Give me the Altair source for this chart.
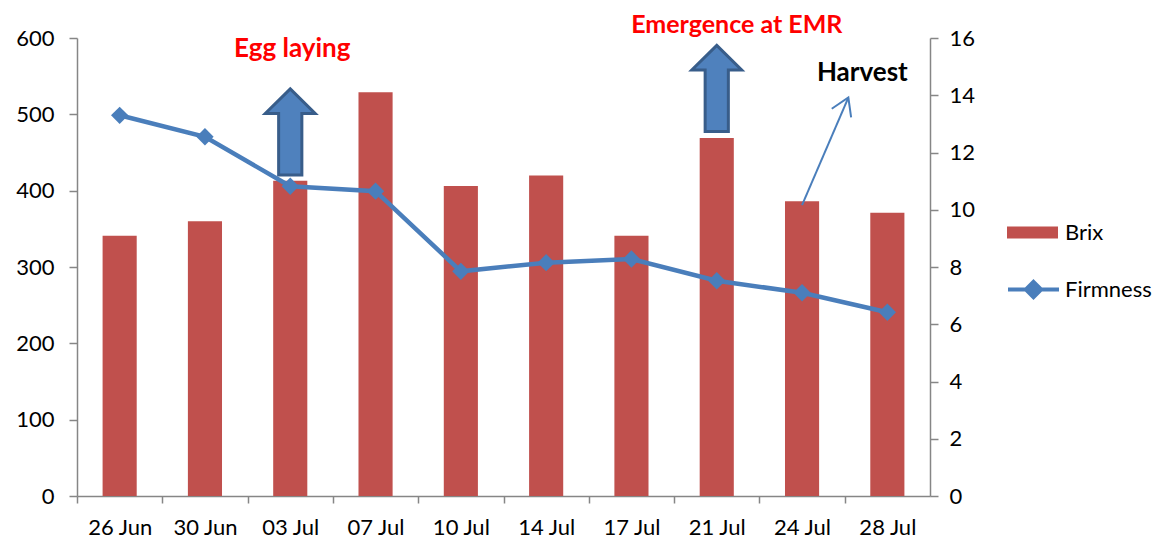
import altair as alt
import pandas as pd

# ---- data ----
dates = ["26 Jun", "30 Jun", "03 Jul", "07 Jul", "10 Jul", "14 Jul", "17 Jul", "21 Jul", "24 Jul", "28 Jul"]
brix = [341, 360, 413, 529, 406, 420, 341, 469, 386, 371]
firmness = [13.3, 12.55, 10.82, 10.65, 7.85, 8.15, 8.28, 7.52, 7.1, 6.42]

# annotations (category, value on Brix scale)
ann_text = ["Egg laying", "Emergence at EMR", "Harvest"]
ann_cat = ["03 Jul", "21 Jul", "28 Jul"]
ann_val = [575, 607, 544]
ann_color = ["#ff0000", "#ff0000", "#000000"]
ann_dx = [2, 20, -25]

block_cat = ["03 Jul", "21 Jul"]
block_val = [477, 534]

harvest_from = ("24 Jul", 381)
harvest_to = ("28 Jul", 522)

FONT = "Lato"
AX_COL = "#868686"

df = pd.DataFrame({"date": dates, "Brix": brix, "Firmness": firmness,
                   "s1": ["Brix"] * len(dates), "s2": ["Firmness"] * len(dates)})

xscale = alt.Scale(domain=dates, paddingInner=0, paddingOuter=0)
yleft = alt.Scale(domain=[0, 600], nice=False, zero=True)
yright = alt.Scale(domain=[0, 16], nice=False, zero=True)


def X(field):
    return alt.X(field, type="nominal", scale=xscale, sort=dates, title=None)


def YL(field):
    return alt.Y(field, type="quantitative", scale=yleft, title=None)


bars = alt.Chart(df).mark_bar(color="#c0504d", width=alt.RelativeBandSize(0.4)).encode(
    x=alt.X("date:N", scale=xscale, sort=dates, title=None,
            axis=alt.Axis(labelAngle=0, labelFont=FONT, labelFontSize=22, labelColor="#000",
                          domainColor=AX_COL, domainWidth=1.5, ticks=True, tickColor=AX_COL,
                          tickWidth=1.5, tickSize=7, tickOffset=-42.65, labelOffset=42.65,
                          labelPadding=14, grid=False)),
    y=alt.Y("Brix:Q", scale=yleft, title=None,
            axis=alt.Axis(values=[0, 100, 200, 300, 400, 500, 600], labelFont=FONT, labelFontSize=22,
                          labelColor="#000", domainColor=AX_COL, domainWidth=1.5, tickColor=AX_COL,
                          tickWidth=1.5, tickSize=8, labelPadding=15, grid=False, orient="left")),
    color=alt.Color("s1:N", scale=alt.Scale(domain=["Brix"], range=["#c0504d"]), title=None,
                    legend=alt.Legend(orient="none", legendX=929, legendY=168, padding=0,
                                      symbolType="M-1,-0.235H1V0.235H-1Z", symbolSize=2601,
                                      labelFont=FONT, labelFontSize=22, labelColor="#000",
                                      labelOffset=6)),
)

ann_df = pd.DataFrame({"t": ann_text, "date": ann_cat, "v": ann_val})
texts = []
for i in range(len(ann_text)):
    texts.append(
        alt.Chart(ann_df.iloc[[i]]).mark_text(font=FONT, fontSize=25 if i == 1 else 26, fontWeight="bold",
                                              color=ann_color[i], dx=ann_dx[i], baseline="alphabetic",
                                              align="center").encode(
            x=X("date"), y=YL("v"), text="t:N")
    )

ARROW = "M0,-1L0.58,-0.43L0.27,-0.43L0.27,1L-0.27,1L-0.27,-0.43L-0.58,-0.43Z"
blk_df = pd.DataFrame({"date": block_cat, "v": block_val})
blocks = alt.Chart(blk_df).mark_point(shape=ARROW, size=7396, filled=True, fill="#4f81bd",
                                      stroke="#385d8a", strokeWidth=3, opacity=1).encode(
    x=X("date"), y=YL("v"))

hv_df = pd.DataFrame({"d1": [harvest_from[0]], "v1": [harvest_from[1]],
                      "d2": [harvest_to[0]], "v2": [harvest_to[1]]})
hrule = alt.Chart(hv_df).mark_rule(color="#4a7ebb", strokeWidth=2, x2Offset=-39).encode(
    x=X("d1"), x2="d2:N", y=YL("v1"), y2="v2:Q")
hhead = alt.Chart(hv_df).mark_point(shape="M-0.53,0.85L0,0L0.53,0.85", size=1600, filled=False,
                                    stroke="#4a7ebb", strokeWidth=2, angle=24, opacity=1,
                                    xOffset=-39).encode(
    x=X("d2"), y=YL("v2"))

left = alt.layer(bars, *texts, blocks, hrule, hhead)

line = alt.Chart(df).mark_line(color="#4a7ebb", strokeWidth=4.5).encode(
    x=X("date"),
    y=alt.Y("Firmness:Q", scale=yright, title=None,
            axis=alt.Axis(values=[0, 2, 4, 6, 8, 10, 12, 14, 16], orient="right", labelFont=FONT,
                          labelFontSize=22, labelColor="#000", domainColor=AX_COL, domainWidth=1.5,
                          tickColor=AX_COL, tickWidth=1.5, tickSize=8, labelPadding=11, grid=False)),
    color=alt.Color("s2:N", scale=alt.Scale(domain=["Firmness"], range=["#4a7ebb"]), title=None,
                    legend=alt.Legend(orient="none", legendX=929, legendY=224, padding=0,
                                      symbolType="M-1,0H1M0,-0.3L0.3,0L0,0.3L-0.3,0Z", symbolSize=2601,
                                      symbolStrokeWidth=4, symbolFillColor="#4a7ebb",
                                      labelFont=FONT, labelFontSize=22, labelColor="#000",
                                      labelOffset=4)),
)
pts = alt.Chart(df).mark_point(shape="diamond", size=300, filled=True, color="#4a7ebb", opacity=1).encode(
    x=X("date"),
    y=alt.Y("Firmness:Q", scale=yright, title=None),
)
right = alt.layer(line, pts)

chart = alt.layer(left, right).resolve_scale(y="independent", color="independent").properties(
    width=853, height=458,
    autosize=alt.AutoSizeParams(type="none"),
    padding={"left": 69, "top": 30, "right": 236, "bottom": 44},
    background="white",
).configure_view(stroke=None)

chart.save("out.html", embed_options={"renderer": "svg", "actions": False})
